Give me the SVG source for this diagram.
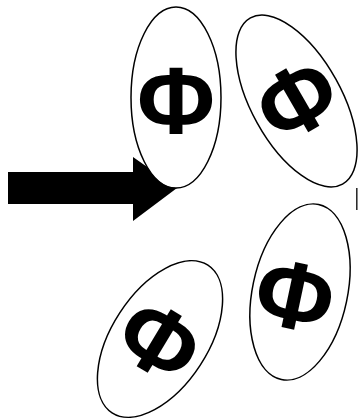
<svg xmlns="http://www.w3.org/2000/svg" width="358" height="419" viewBox="0 0 358 419">
<style>
.el{fill:#fff;stroke:#000;stroke-width:1.5}
.phi{font-family:"Liberation Sans",Arial,sans-serif;font-weight:bold;font-size:95px;text-anchor:middle;fill:#000}
</style>
<rect width="358" height="419" fill="#fff"/>
<g id="connectors">
<polygon points="8,172 133,172 133,157 177,188 133,221 133,204 8,204" fill="#000"/>
</g>
<g id="node1">
<ellipse class="el" cx="176" cy="97.5" rx="45" ry="90.5"/>
<text class="phi" transform="translate(176,99)" x="0" y="34">Φ</text>
</g>
<g id="node2">
<ellipse class="el" transform="translate(296.5,101) rotate(-29)" rx="45" ry="95"/>
<text class="phi" transform="translate(296.5,99) rotate(-30)" x="0" y="34">Φ</text>
</g>
<g id="node3">
<ellipse class="el" transform="translate(300,292) rotate(12)" rx="47.5" ry="89.5"/>
<text class="phi" transform="translate(295,294.5) rotate(12)" x="0" y="34">Φ</text>
</g>
<g id="node4">
<ellipse class="el" transform="translate(160,339) rotate(33)" rx="48" ry="88"/>
<text class="phi" transform="translate(160,340) rotate(31)" x="0" y="34">Φ</text>
</g>
<line x1="356.8" y1="188" x2="356.8" y2="210" stroke="#222" stroke-width="1.5"/>
</svg>
